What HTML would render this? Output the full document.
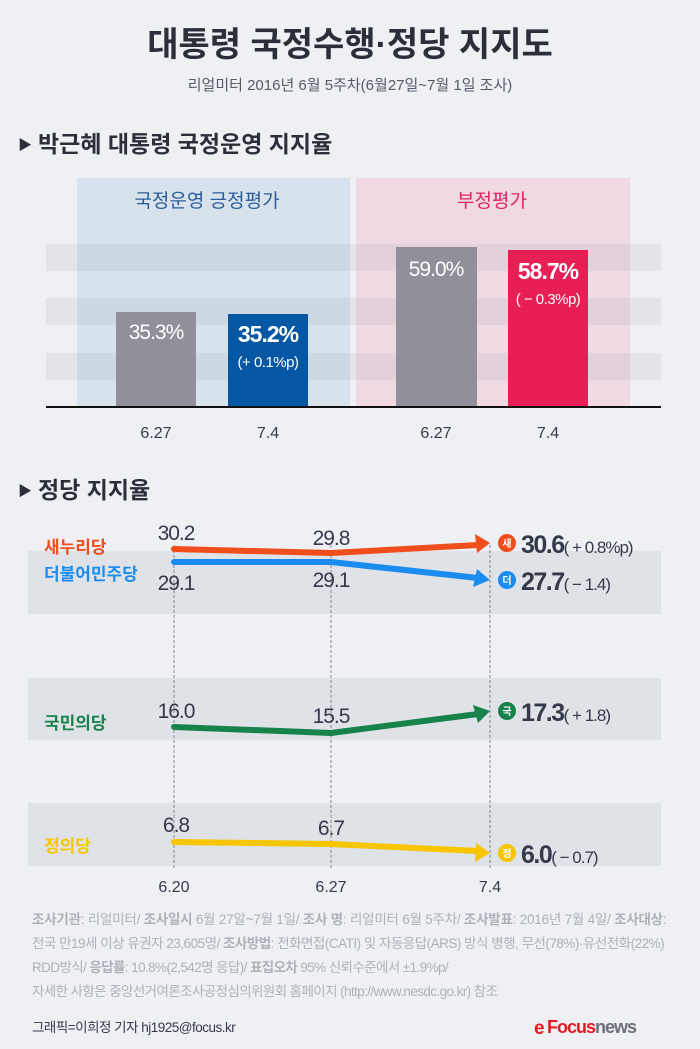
<!DOCTYPE html>
<html><head><meta charset="utf-8"><style>
body{margin:0;background:#eef0f4;}
svg{display:block;font-family:"Liberation Sans","Noto Sans CJK KR",sans-serif;}
</style></head><body>
<svg width="700" height="1049" viewBox="0 0 700 1049" xmlns="http://www.w3.org/2000/svg">
<rect width="700" height="1049" fill="#eef0f4"/>
<text x="350" y="56" text-anchor="middle" font-size="34" font-weight="bold" fill="#2b2f3a">대통령 국정수행·정당 지지도</text>
<text x="350" y="90" text-anchor="middle" font-size="15" fill="#555a66">리얼미터 2016년 6월 5주차(6월27일~7월 1일 조사)</text>
<text x="18" y="150" font-size="14" fill="#2b2f3a">▶</text>
<text x="38" y="152" font-size="23" font-weight="bold" fill="#2b2f3a">박근혜 대통령 국정운영 지지율</text>
<rect x="77" y="178" width="273" height="229" fill="#d7e2ed"/>
<rect x="356" y="178" width="274" height="229" fill="#f0d9e3"/>
<rect x="46" y="244" width="615" height="27" fill="#8890a0" opacity="0.12"/>
<rect x="46" y="298" width="615" height="27" fill="#8890a0" opacity="0.12"/>
<rect x="46" y="353" width="615" height="27" fill="#8890a0" opacity="0.12"/>
<text x="207" y="207" text-anchor="middle" font-size="19" fill="#2b5d9c">국정운영 긍정평가</text>
<text x="492" y="207" text-anchor="middle" font-size="19" fill="#e0245e">부정평가</text>
<rect x="116" y="312" width="80" height="95" fill="#918f9a"/>
<rect x="228" y="314" width="80" height="93" fill="#0457a2"/>
<rect x="396" y="247" width="81" height="160" fill="#918f9a"/>
<rect x="508" y="250" width="80" height="157" fill="#e81f55"/>
<line x1="46" y1="407" x2="661" y2="407" stroke="#111" stroke-width="2"/>
<g fill="#fff" text-anchor="middle">
<text x="156" y="339" font-size="21" letter-spacing="-1">35.3%</text>
<text x="268" y="342" font-size="23" font-weight="bold" letter-spacing="-1">35.2%</text>
<text x="268" y="367" font-size="15" letter-spacing="-0.5">(+ 0.1%p)</text>
<text x="436" y="276" font-size="21" letter-spacing="-1">59.0%</text>
<text x="548" y="279" font-size="23" font-weight="bold" letter-spacing="-1">58.7%</text>
<text x="548" y="304" font-size="15" letter-spacing="-0.5">( − 0.3%p)</text>
</g>
<g fill="#333a4a" text-anchor="middle" font-size="16">
<text x="156" y="438">6.27</text><text x="268" y="438">7.4</text>
<text x="436" y="438">6.27</text><text x="548" y="438">7.4</text>
</g>
<text x="18" y="496" font-size="14" fill="#2b2f3a">▶</text>
<text x="38" y="498" font-size="23" font-weight="bold" fill="#2b2f3a">정당 지지율</text>
<rect x="28" y="551" width="633" height="63" fill="#dfe2e7"/>
<rect x="28" y="678" width="633" height="62" fill="#dfe2e7"/>
<rect x="28" y="803" width="633" height="63" fill="#dfe2e7"/>
<g stroke="#888" stroke-width="1" stroke-dasharray="3,2">
<line x1="174" y1="545" x2="174" y2="870"/><line x1="331" y1="545" x2="331" y2="870"/><line x1="490" y1="545" x2="490" y2="870"/>
</g>
<g fill="none" stroke-width="6" stroke-linejoin="round" stroke-linecap="round">
<polyline points="174,549 331,553 478,545" stroke="#f04e1c"/>
<polyline points="174,562 331,562 478,578" stroke="#1a8cf0"/>
<polyline points="174,727 331,733 478,714" stroke="#17824a"/>
<polyline points="174,842 331,844 478,851" stroke="#f7c600"/>
</g>
<polygon points="490,543 475,534 477,553" fill="#f04e1c"/>
<polygon points="490,580 477,569 473,587" fill="#1a8cf0"/>
<polygon points="490,711 473,705 478,723" fill="#17824a"/>
<polygon points="490,853 476,843 475,862" fill="#f7c600"/>
<g fill="#333a4a" text-anchor="middle" font-size="21" letter-spacing="-1">
<text x="176" y="540">30.2</text><text x="331" y="545">29.8</text>
<text x="176" y="590">29.1</text><text x="331" y="587">29.1</text>
<text x="176" y="718">16.0</text><text x="331" y="723">15.5</text>
<text x="176" y="832">6.8</text><text x="331" y="835">6.7</text>
</g>
<g font-size="17" font-weight="bold">
<text x="44" y="553" fill="#f04e1c">새누리당</text>
<text x="44" y="580" fill="#1a8cf0">더불어민주당</text>
<text x="44" y="729" fill="#17824a">국민의당</text>
<text x="44" y="852" fill="#f7c600">정의당</text>
</g>
<g font-size="10" font-weight="bold" fill="#fff" text-anchor="middle">
<circle cx="507" cy="543" r="9" fill="#f04e1c"/><text x="507" y="547">새</text>
<circle cx="507" cy="580" r="9" fill="#1a8cf0"/><text x="507" y="584">더</text>
<circle cx="507" cy="711" r="9" fill="#17824a"/><text x="507" y="715">국</text>
<circle cx="507" cy="853" r="9" fill="#f7c600"/><text x="507" y="857">정</text>
</g>
<g fill="#333a4a">
<text x="521" y="553" font-size="25" font-weight="bold" letter-spacing="-1.5">30.6<tspan font-size="17" font-weight="normal" letter-spacing="-1">( + 0.8%p)</tspan></text>
<text x="521" y="590" font-size="25" font-weight="bold" letter-spacing="-1.5">27.7<tspan font-size="17" font-weight="normal" letter-spacing="-1">( − 1.4)</tspan></text>
<text x="521" y="721" font-size="25" font-weight="bold" letter-spacing="-1.5">17.3<tspan font-size="17" font-weight="normal" letter-spacing="-1">( + 1.8)</tspan></text>
<text x="521" y="863" font-size="25" font-weight="bold" letter-spacing="-1.5">6.0<tspan font-size="17" font-weight="normal" letter-spacing="-1">( − 0.7)</tspan></text>
</g>
<g fill="#333a4a" text-anchor="middle" font-size="16">
<text x="174" y="892">6.20</text><text x="331" y="892">6.27</text><text x="490" y="892">7.4</text>
</g>
<g fill="#adb1ba" font-size="13.5" letter-spacing="-0.6">
<text x="32" y="924" textLength="634"><tspan font-weight="bold">조사기관</tspan>: 리얼미터/ <tspan font-weight="bold">조사일시</tspan> 6월 27알~7월 1일/ <tspan font-weight="bold">조사 명</tspan>: 리얼미터 6월 5주차/ <tspan font-weight="bold">조사발표</tspan>: 2016년 7월 4일/ <tspan font-weight="bold">조사대상</tspan>:</text>
<text x="32" y="948" textLength="632">전국 만19세 이상 유권자 23,605명/ <tspan font-weight="bold">조사방법</tspan>: 전화면접(CATI) 및 자동응답(ARS) 방식 병행, 무선(78%)·유선전화(22%)</text>
<text x="32" y="972">RDD방식/ <tspan font-weight="bold">응답률</tspan>: 10.8%(2,542명 응답)/ <tspan font-weight="bold">표집오차</tspan> 95% 신뢰수준에서 ±1.9%p/</text>
<text x="32" y="996">자세한 사항은 중앙선거여론조사공정심의위원회 홈페이지 (http://www.nesdc.go.kr) 참조</text>
</g>
<text x="32" y="1032" font-size="13.5" fill="#333a4a" letter-spacing="-0.5">그래픽=이희정 기자 hj1925@focus.kr</text>
<text x="534" y="1034" font-size="19" font-weight="bold" fill="#e31b23" letter-spacing="-1">e</text>
<text x="547" y="1033" font-size="18" font-weight="bold" letter-spacing="-1"><tspan fill="#e31b23">Focus</tspan><tspan fill="#6b6f78">news</tspan></text>
</svg>
</body></html>
